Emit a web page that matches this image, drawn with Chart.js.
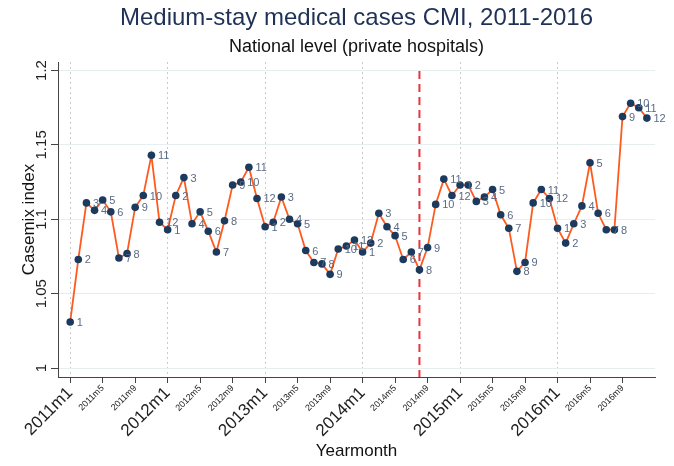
<!DOCTYPE html>
<html>
<head>
<meta charset="utf-8">
<script src="https://cdn.jsdelivr.net/npm/chart.js@4"></script>
<style>
html,body{margin:0;padding:0;background:#fff;}
#wrap{width:674px;height:466px;}
</style>
</head>
<body>
<div id="wrap"><canvas id="c" width="674" height="466"></canvas></div>
<script>
// ---- data ----
const years = [2011, 2012, 2013, 2014, 2015, 2016];
const cmi2011 = [1.031, 1.073, 1.111, 1.106, 1.113, 1.105, 1.074, 1.077, 1.108, 1.116, 1.143, 1.098];
const cmi2012 = [1.093, 1.116, 1.128, 1.097, 1.105, 1.092, 1.078, 1.099, 1.123, 1.125, 1.135, 1.114];
const cmi2013 = [1.095, 1.098, 1.115, 1.100, 1.097, 1.079, 1.071, 1.070, 1.063, 1.080, 1.082, 1.086];
const cmi2014 = [1.078, 1.084, 1.104, 1.095, 1.089, 1.073, 1.078, 1.066, 1.081, 1.110, 1.127, 1.116];
const cmi2015 = [1.123, 1.123, 1.112, 1.115, 1.120, 1.103, 1.094, 1.065, 1.071, 1.111, 1.120, 1.114];
const cmi2016 = [1.094, 1.084, 1.097, 1.109, 1.138, 1.104, 1.093, 1.093, 1.169, 1.178, 1.175, 1.168];
const yTickValues = [1, 1.05, 1.1, 1.15, 1.2];
const yTickLabels = ["1", "1.05", "1.1", "1.15", "1.2"];
const xTickMonths = [1, 5, 9];          // months labelled on the x axis each year
const eventYear = 2014, eventMonth = 8; // dashed reference line
const titleText = 'Medium-stay medical cases CMI, 2011-2016';
const subtitleText = 'National level (private hospitals)';

const allValues = [cmi2011, cmi2012, cmi2013, cmi2014, cmi2015, cmi2016];
const points = [];
allValues.forEach((arr, yi) => arr.forEach((v, mi) => points.push({x: yi * 12 + mi, y: v, m: mi + 1})));
const xTicks = [];
years.forEach((yr, yi) => xTickMonths.forEach(m => xTicks.push({value: yi * 12 + m - 1, label: yr + 'm' + m, major: m === 1})));
const eventIndex = (eventYear - years[0]) * 12 + eventMonth - 1;

const FONT = "'Liberation Sans', Arial, sans-serif";

const decorPlugin = {
  id: 'decor',
  beforeDatasetsDraw(chart) {
    const ctx = chart.ctx, x = chart.scales.x.getPixelForValue(eventIndex), a = chart.chartArea;
    ctx.save();
    ctx.strokeStyle = '#e8353c';
    ctx.lineWidth = 2;
    ctx.setLineDash([8, 5]);
    ctx.beginPath();
    ctx.moveTo(x, a.top + 9);
    ctx.lineTo(x, a.bottom);
    ctx.stroke();
    ctx.restore();
  },
  afterDatasetsDraw(chart) {
    const ctx = chart.ctx, meta = chart.getDatasetMeta(0);
    ctx.save();
    ctx.font = '11px ' + FONT;
    ctx.fillStyle = '#5a6b84';
    ctx.textAlign = 'left';
    ctx.textBaseline = 'middle';
    meta.data.forEach((el, i) => {
      ctx.fillText(String(points[i].m), el.x + 6.5, el.y + 1);
    });
    ctx.restore();
  },
  afterDraw(chart) {
    const ctx = chart.ctx, ys = chart.scales.y, a = chart.chartArea;
    ctx.save();
    // titles, centred over the plot region
    const cx = (a.left + a.right) / 2;
    ctx.textAlign = 'center';
    ctx.textBaseline = 'middle';
    ctx.font = '24px ' + FONT;
    ctx.fillStyle = '#1f3156';
    ctx.fillText(titleText, cx, 18);
    ctx.font = '18px ' + FONT;
    ctx.fillStyle = '#111';
    ctx.fillText(subtitleText, cx, 47);
    // rotated y tick labels
    ctx.font = '15px ' + FONT;
    ctx.fillStyle = '#222';
    yTickValues.forEach((v, i) => {
      const py = ys.getPixelForValue(v);
      ctx.save();
      ctx.translate(42, py);
      ctx.rotate(-Math.PI / 2);
      ctx.fillText(yTickLabels[i], 0, 0);
      ctx.restore();
    });
    ctx.restore();
  }
};

new Chart(document.getElementById('c'), {
  type: 'line',
  data: {
    datasets: [{
      data: points,
      parsing: {xAxisKey: 'x', yAxisKey: 'y'},
      borderColor: '#ff5a1e',
      borderWidth: 1.8,
      pointBackgroundColor: '#1b3a5e',
      pointBorderColor: '#1b3a5e',
      pointRadius: 3.8,
      pointBorderWidth: 0,
      tension: 0
    }]
  },
  options: {
    responsive: false,
    animation: false,
    devicePixelRatio: 1,
    layout: {padding: {left: 0, right: 19, top: 62, bottom: 0}},
    plugins: {
      legend: {display: false},
      tooltip: {enabled: false},
      title: {display: false},
      subtitle: {display: false}
    },
    scales: {
      x: {
        type: 'linear',
        min: -1.5,
        max: 72,
        afterBuildTicks(s) { s.ticks = xTicks.map(t => ({value: t.value})); },
        afterFit(s) { s.height = 89; },
        ticks: {
          autoSkip: false,
          minRotation: 45,
          maxRotation: 45,
          padding: 0,
          color: '#222',
          callback(v) { const t = xTicks.find(t => t.value === v); return t ? t.label : ''; },
          font(c) {
            const t = c.tick && xTicks.find(t => t.value === c.tick.value);
            return (t && t.major) ? {family: FONT, size: 17} : {family: FONT, size: 9};
          }
        },
        grid: {
          color(c) {
            const t = c.tick && xTicks.find(t => t.value === c.tick.value);
            return (t && t.major) ? '#c9c9c9' : 'rgba(0,0,0,0)';
          },
          lineWidth: 1,
          tickColor: '#444',
          tickLength: 6,
          drawTicks: true
        },
        border: {display: true, color: '#444', width: 1, dash: [2, 3]},
        title: {
          display: true,
          text: 'Yearmonth',
          color: '#111',
          font: {family: FONT, size: 17},
          padding: {top: 0, bottom: 4}
        }
      },
      y: {
        type: 'linear',
        min: 0.994,
        max: 1.2057,
        afterBuildTicks(s) { s.ticks = yTickValues.map(v => ({value: v})); },
        afterFit(s) { s.width = 58; },
        ticks: {display: false},
        grid: {
          color: '#e6eff0',
          lineWidth: 1,
          tickColor: '#444',
          tickLength: 7,
          drawTicks: true
        },
        border: {display: true, color: '#444', width: 1},
        title: {
          display: true,
          text: 'Casemix index',
          color: '#111',
          font: {family: FONT, size: 17},
          padding: {top: 19, bottom: 0}
        }
      }
    }
  },
  plugins: [decorPlugin]
});
</script>
</body>
</html>
